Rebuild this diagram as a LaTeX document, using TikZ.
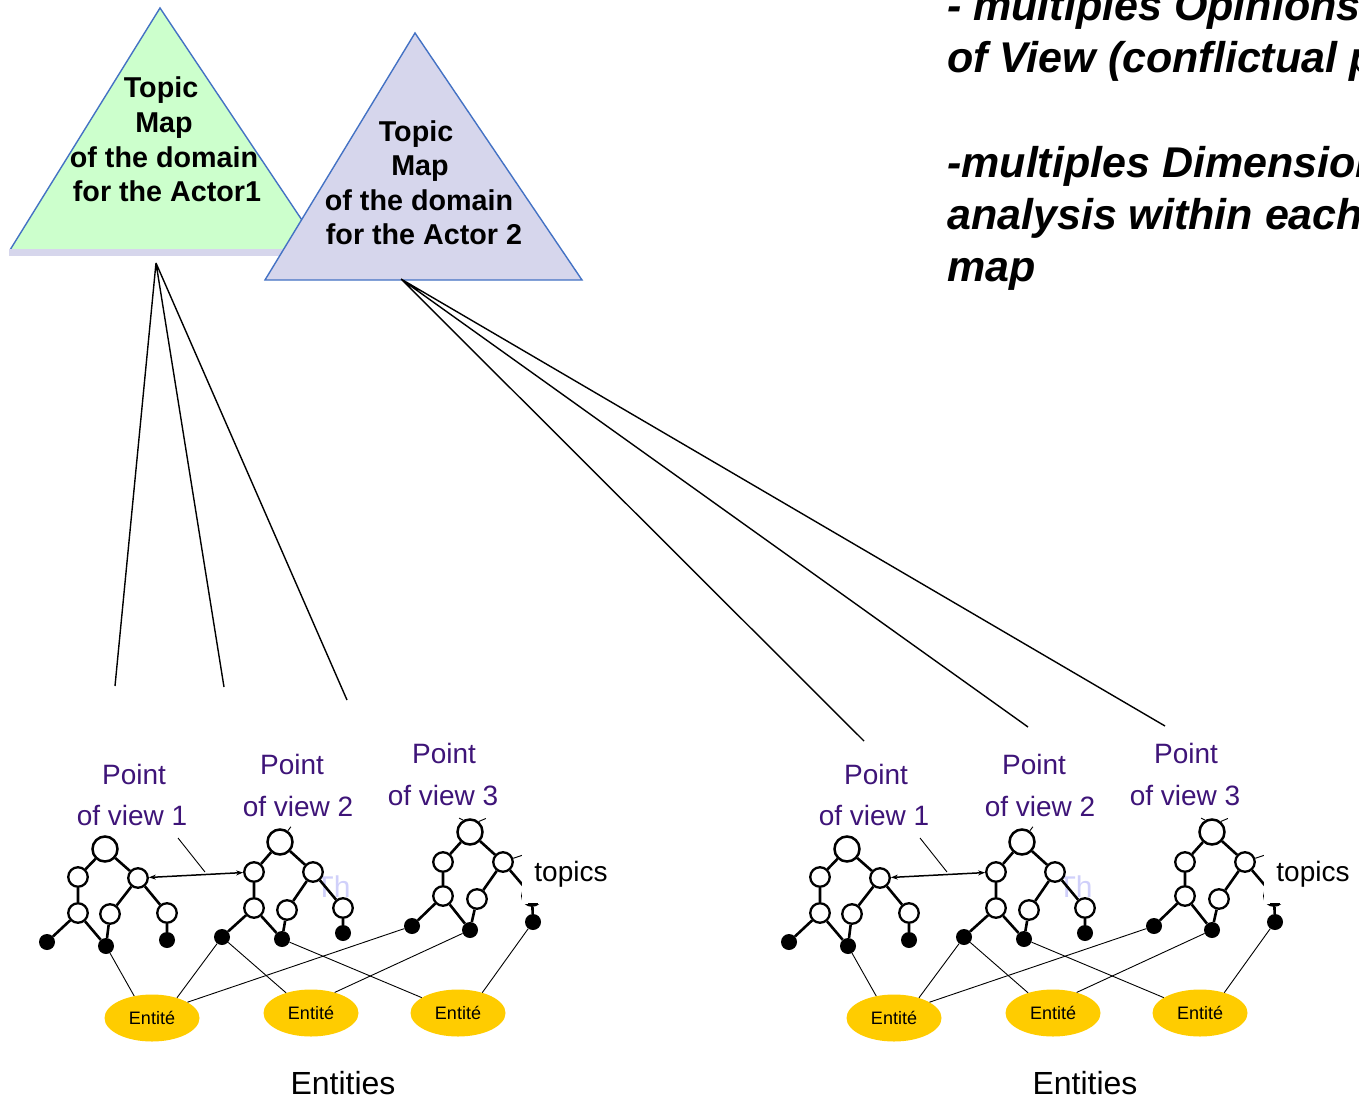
\documentclass[tikz,border=0pt]{standalone}
\usepackage{fontspec}
\setmainfont{Liberation Sans}
\usetikzlibrary{arrows.meta,shapes.geometric}

\definecolor{trigreen}{RGB}{204,255,204}
\definecolor{trilav}{RGB}{214,214,236}
\definecolor{triedge}{RGB}{68,114,196}
\definecolor{pvpurple}{RGB}{62,20,120}
\definecolor{entgold}{RGB}{255,204,0}
\definecolor{ghostblue}{RGB}{208,208,250}

\tikzset{
  tritext/.style={font=\fontsize{28.7}{34}\selectfont\bfseries, anchor=base, inner sep=0pt},
  pvtext/.style={font=\fontsize{28}{34}\selectfont, text=pvpurple, anchor=base, inner sep=0pt},
  notetext/.style={font=\fontsize{43}{52}\selectfont\bfseries\itshape, anchor=base west, inner sep=0pt},
  plaintext/.style={font=\fontsize{28}{34}\selectfont, anchor=base, inner sep=0pt},
  ghosttext/.style={font=\fontsize{30}{34}\selectfont, text=ghostblue, inner sep=0pt},
  rootnode/.style={circle, draw, line width=2.5pt, fill=white, minimum size=25pt, inner sep=0pt},
  midnode/.style={circle, draw, line width=2.3pt, fill=white, minimum size=19.5pt, inner sep=0pt},
  leafnode/.style={circle, fill=black, minimum size=16pt, inner sep=0pt},
  treeedge/.style={line width=2.6pt},
  thinline/.style={line width=0.9pt},
  mapline/.style={line width=1.4pt},
  entity/.style={ellipse, fill=entgold, minimum width=95pt, minimum height=47pt,
                 inner sep=0pt, font=\fontsize{18}{20}\selectfont},
}

\begin{document}
\begin{tikzpicture}[x=1pt, y=-1pt]
\useasboundingbox (0,0) rectangle (1359,1097);
\clip (0,0) rectangle (1359,1097);

% --- the two topic maps -------------------------------------------------
\fill[trigreen] (160,8) -- (10,250) -- (322,250) -- cycle;
\draw[triedge, line width=1.4pt] (10,250) -- (160,8) -- (322,250);
\fill[trilav] (9,249) rectangle (300,256);
\filldraw[fill=trilav, draw=triedge, line width=1.4pt] (415,33) -- (265,280) -- (582,280) -- cycle;

\node[tritext] (m1a) at (161,98)  {Topic};
\node[tritext] (m1b) at (164,132) {Map};
\node[tritext] (m1c) at (164,167) {of the domain};
\node[tritext] (m1d) at (167,201) {for the Actor1};

\node[tritext] (m2a) at (416,141) {Topic};
\node[tritext] (m2b) at (420,175) {Map};
\node[tritext] (m2c) at (419,210) {of the domain};
\node[tritext] (m2d) at (424,244) {for the Actor 2};

% --- notes (they run past the right edge) -------------------------------
\node[notetext] (n1) at (947,21)  {- multiples Opinions};
\node[notetext] (n2) at (947,73)  {of View (conflictual p};
\node[notetext] (n3) at (947,177) {-multiples Dimension};
\node[notetext] (n4) at (947,229) {analysis within each};
\node[notetext] (n5) at (947,281) {map};

% --- links from each map to its points of view --------------------------
\coordinate (p1) at (156,263);
\coordinate (p2) at (401,279);
\coordinate (q1) at (115,686);
\coordinate (q2) at (224,687);
\coordinate (q3) at (347,700);
\coordinate (q4) at (864,741);
\coordinate (q5) at (1028,727);
\coordinate (q6) at (1165,726);
\draw[mapline] (p1) -- (q1) (p1) -- (q2) (p1) -- (q3);
\draw[mapline] (p2) -- (q4) (p2) -- (q5) (p2) -- (q6);

% --- one block of three points of view with their entities --------------
\foreach \g/\dx in {L/0, R/742} {
\begin{scope}[xshift=\dx]
  \node[ghosttext] (\g th) at (333,887) {Th};

  \node[pvtext] (\g v1a) at (134,784) {Point};
  \node[pvtext] (\g v1b) at (132,825) {of view 1};
  \node[pvtext] (\g v2a) at (292,774) {Point};
  \node[pvtext] (\g v2b) at (298,816) {of view 2};
  \node[pvtext] (\g v3a) at (444,763) {Point};
  \node[pvtext] (\g v3b) at (443,805) {of view 3};

  % tree 1
  \node[rootnode] (\g a0) at (105,849) {};
  \node[midnode]  (\g a1) at (78,877) {};
  \node[midnode]  (\g a2) at (138,878) {};
  \node[midnode]  (\g a3) at (78,913) {};
  \node[midnode]  (\g a4) at (110,914) {};
  \node[midnode]  (\g a5) at (167,913) {};
  \node[leafnode] (\g a6) at (47,942) {};
  \node[leafnode] (\g a7) at (106,946) {};
  \node[leafnode] (\g a8) at (167,940) {};
  % tree 2
  \node[rootnode] (\g b0) at (280,842) {};
  \node[midnode]  (\g b1) at (254,872) {};
  \node[midnode]  (\g b2) at (313,872) {};
  \node[midnode]  (\g b3) at (254,908) {};
  \node[midnode]  (\g b4) at (287,910) {};
  \node[midnode]  (\g b5) at (343,908) {};
  \node[leafnode] (\g b6) at (222,937) {};
  \node[leafnode] (\g b7) at (282,939) {};
  \node[leafnode] (\g b8) at (343,933) {};
  % tree 3
  \node[rootnode] (\g c0) at (470,832) {};
  \node[midnode]  (\g c1) at (443,862) {};
  \node[midnode]  (\g c2) at (503,862) {};
  \node[midnode]  (\g c3) at (443,896) {};
  \node[midnode]  (\g c4) at (477,899) {};
  \node[midnode]  (\g c5) at (532,896) {};
  \node[leafnode] (\g c6) at (412,926) {};
  \node[leafnode] (\g c7) at (470,930) {};
  \node[leafnode] (\g c8) at (533,922) {};

  \foreach \t in {a,b,c} {
    \draw[treeedge] (\g\t0) -- (\g\t1) (\g\t0) -- (\g\t2)
                    (\g\t1) -- (\g\t3) (\g\t2) -- (\g\t4) (\g\t2) -- (\g\t5)
                    (\g\t3) -- (\g\t6) (\g\t3) -- (\g\t7) (\g\t4) -- (\g\t7)
                    (\g\t5) -- (\g\t8);
  }

  % short stubs left on the trees
  \draw[thinline] (\g b0.55) -- ++(3,-4);
  \draw[thinline] (\g c0.120) -- ++(-4,-2);
  \draw[thinline] (\g c0.50) -- ++(7,-3);
  \draw[thinline] (\g c2.20) -- ++(9,-3);

  % correspondence between point of view 1 and point of view 2
  \draw[line width=1.5pt, {Stealth[length=7pt,width=5pt]}-{Stealth[length=7pt,width=5pt]}]
    (\g a2) -- (\g b1);
  \coordinate (\g pa) at (178,838);
  \coordinate (\g pb) at (205,872);
  \draw[thinline] (\g pa) -- (\g pb);

  % label for the topics
  \fill[white] (522,795) rectangle (624,904);
  \draw[line width=1.6pt] (528,904) -- (538,904);
  \node[plaintext, text=black] (\g tp) at (571,881) {topics};

  % entities
  \node[entity] (\g e1) at (152,1018) {Entité};
  \node[entity] (\g e2) at (311,1013) {Entité};
  \node[entity] (\g e3) at (458,1013) {Entité};
  \draw[thinline] (\g a7) -- (\g e1.129);
  \draw[thinline] (\g b6) -- (\g e1.39);
  \draw[thinline] (\g c6) -- (\g e1.24);
  \draw[thinline] (\g b6) -- (\g e2.141);
  \draw[thinline] (\g c7) -- (\g e2.41);
  \draw[thinline] (\g b7) -- (\g e3.157);
  \draw[thinline] (\g c8) -- (\g e3.40);

  \node[font=\fontsize{32}{36}\selectfont, inner sep=0pt] (\g ent) at (343,1083) {Entities};
\end{scope}
}
\end{tikzpicture}
\end{document}
